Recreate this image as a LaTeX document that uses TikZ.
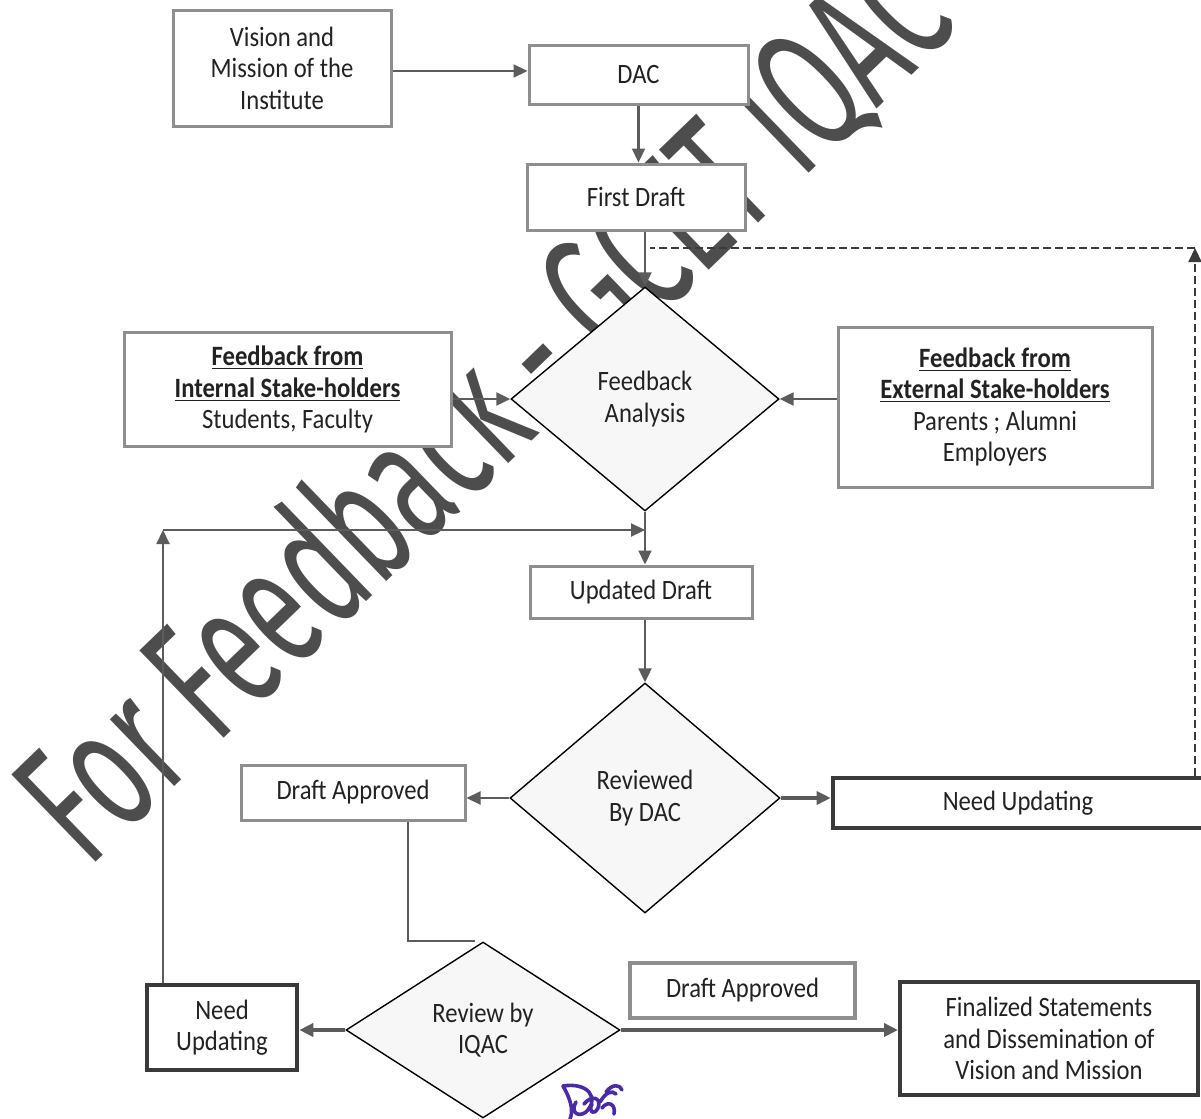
\documentclass[tikz,border=0pt]{standalone}
\usepackage{fontspec}
\setmainfont{Carlito}[FakeStretch=0.88]
\newfontfamily\wmfont{Fira Sans}[FakeStretch=0.6]
\usetikzlibrary{shapes.geometric,arrows.meta,calc}
\definecolor{txt}{HTML}{222222}
\definecolor{lbord}{HTML}{8E8E8E}
\definecolor{dbord}{HTML}{3A3A3A}
\definecolor{arr}{HTML}{5C5C5C}
\definecolor{wm}{HTML}{4D4D4D}
\definecolor{dfill}{HTML}{F7F7F7}
\definecolor{sig}{HTML}{4A2BA6}
\begin{document}
\begin{tikzpicture}[x=0.5pt,y=-0.5pt,
  every node/.style={font=\fontsize{14}{15.7}\selectfont, text=txt, align=center},
  lbox/.style={draw=lbord, line width=1.5pt, fill=white, rectangle, inner sep=0pt},
  dbox/.style={draw=dbord, line width=2.3pt, fill=white, rectangle, inner sep=0pt},
  dia/.style={draw=black, line width=0.7pt, fill=dfill, diamond, inner sep=0pt},
  conn/.style={draw=arr, line width=1.1pt, -{Triangle[length=7pt,width=6.5pt]}},
  tconn/.style={conn, line width=2pt},
  dconn/.style={draw=dbord, line width=1.1pt, dash pattern=on 4pt off 2pt},
  wmark/.style={text=wm, rotate=44, anchor=base west, inner sep=0pt}
]
\fill[white] (0,0) rectangle (1201,1119);
\useasboundingbox (0,0) rectangle (1201,1119);

% watermark
\node[wmark] (wmk) at (88,870) {\wmfont\fontsize{88}{88}\selectfont For Feedback - GCET IQAC};

% nodes
\node[lbox, minimum width=109pt, minimum height=58pt] (vis) at (282,68) {Vision and\\Mission of the\\Institute};
\node[lbox, minimum width=109.5pt, minimum height=29.5pt] (dac) at (638.5,74.5) {DAC};
\node[lbox, minimum width=109pt, minimum height=33pt] (fd) at (636,197) {First Draft};
\node[dia, minimum width=134pt, minimum height=112pt] (fa) at (645,399) {Feedback\\Analysis};
\node[lbox, minimum width=163.5pt, minimum height=57pt] (int) at (287.5,389.5) {\underline{\textbf{Feedback from}}\\\underline{\textbf{Internal Stake-holders}}\\Students, Faculty};
\node[lbox, minimum width=157pt, minimum height=80pt] (ext) at (995,407) {\underline{\textbf{Feedback from}}\\\underline{\textbf{External Stake-holders}}\\Parents ; Alumni\\Employers};
\node[lbox, minimum width=111pt, minimum height=26pt] (ud) at (641,592) {Updated Draft};
\node[dia, minimum width=135pt, minimum height=115pt] (rd) at (645,798) {Reviewed\\By DAC};
\node[lbox, minimum width=112pt, minimum height=27.5pt] (da1) at (353,792.5) {Draft Approved};
\node[dbox, minimum width=185pt, minimum height=25pt] (nu1) at (1018,803) {Need Updating};
\node[dia, minimum width=137pt, minimum height=88pt] (iqac) at (483,1030) {Review by\\IQAC};
\node[dbox, minimum width=75pt, minimum height=42.5pt] (nu2) at (222,1027.5) {Need\\Updating};
\node[lbox, line width=2pt, minimum width=112.5pt, minimum height=27.5pt] (da2) at (742.5,990.5) {Draft Approved};
\node[dbox, line width=2pt, minimum width=149pt, minimum height=56.5pt] (fin) at (1049,1038.5) {Finalized Statements\\and Dissemination of\\Vision and Mission};

% helper coordinates
\coordinate (dcorner) at (1195,248);
\coordinate (djoin) at (650,248);
\coordinate (loopc) at (163,530);
\coordinate (loopj) at (645,530);

% connectors
\draw[conn] (vis.east |- 0,71) -- (dac.west |- 0,71);
\draw[conn] (dac.south) -- (dac.south |- fd.north);
\draw[conn] (fd.south -| fa.north) -- (fa.north);
\draw[conn] (int.east |- fa.west) -- (fa.west);
\draw[conn] (ext.west |- fa.east) -- (fa.east);
\draw[conn] (fa.south) -- (fa.south |- ud.north);
\draw[conn] (ud.south -| rd.north) -- (rd.north);
\draw[conn] (rd.west) -- (rd.west -| da1.east);
\draw[conn, line width=1.6pt] (rd.east) -- (rd.east -| nu1.west);
\draw[dconn, -{Triangle[length=7pt,width=6.5pt]}] (nu1.north -| dcorner) -- (dcorner);
\draw[dconn] (dcorner) -- (djoin);
\draw[draw=arr, line width=1.1pt] ($(da1.south)+(55,0)$) |- ($(iqac.north)+(-8,0)$);
\draw[tconn] (iqac.west) -- (iqac.west -| nu2.east);
\draw[tconn] (iqac.east) -- (iqac.east -| fin.west);
\draw[conn] ($(nu2.north)+(-59,0)$) -- (loopc);
\draw[conn] (loopc) -- (loopj);

% signature
\draw[sig, line width=1.8pt, line cap=round, line join=round]
  (563,1086) .. controls (570,1098) and (574,1110) .. (570,1119)
  (563,1086) .. controls (588,1082) and (600,1098) .. (586,1112)
  .. controls (578,1118) and (570,1112) .. (576,1102)
  (584,1104) .. controls (592,1094) and (602,1098) .. (598,1108)
  .. controls (594,1116) and (588,1112) .. (592,1104)
  (600,1102) .. controls (606,1092) and (612,1090) .. (616,1094)
  (602,1108) .. controls (608,1100) and (616,1104) .. (614,1114)
  (606,1092) .. controls (612,1084) and (620,1084) .. (622,1090);
\end{tikzpicture}
\end{document}
